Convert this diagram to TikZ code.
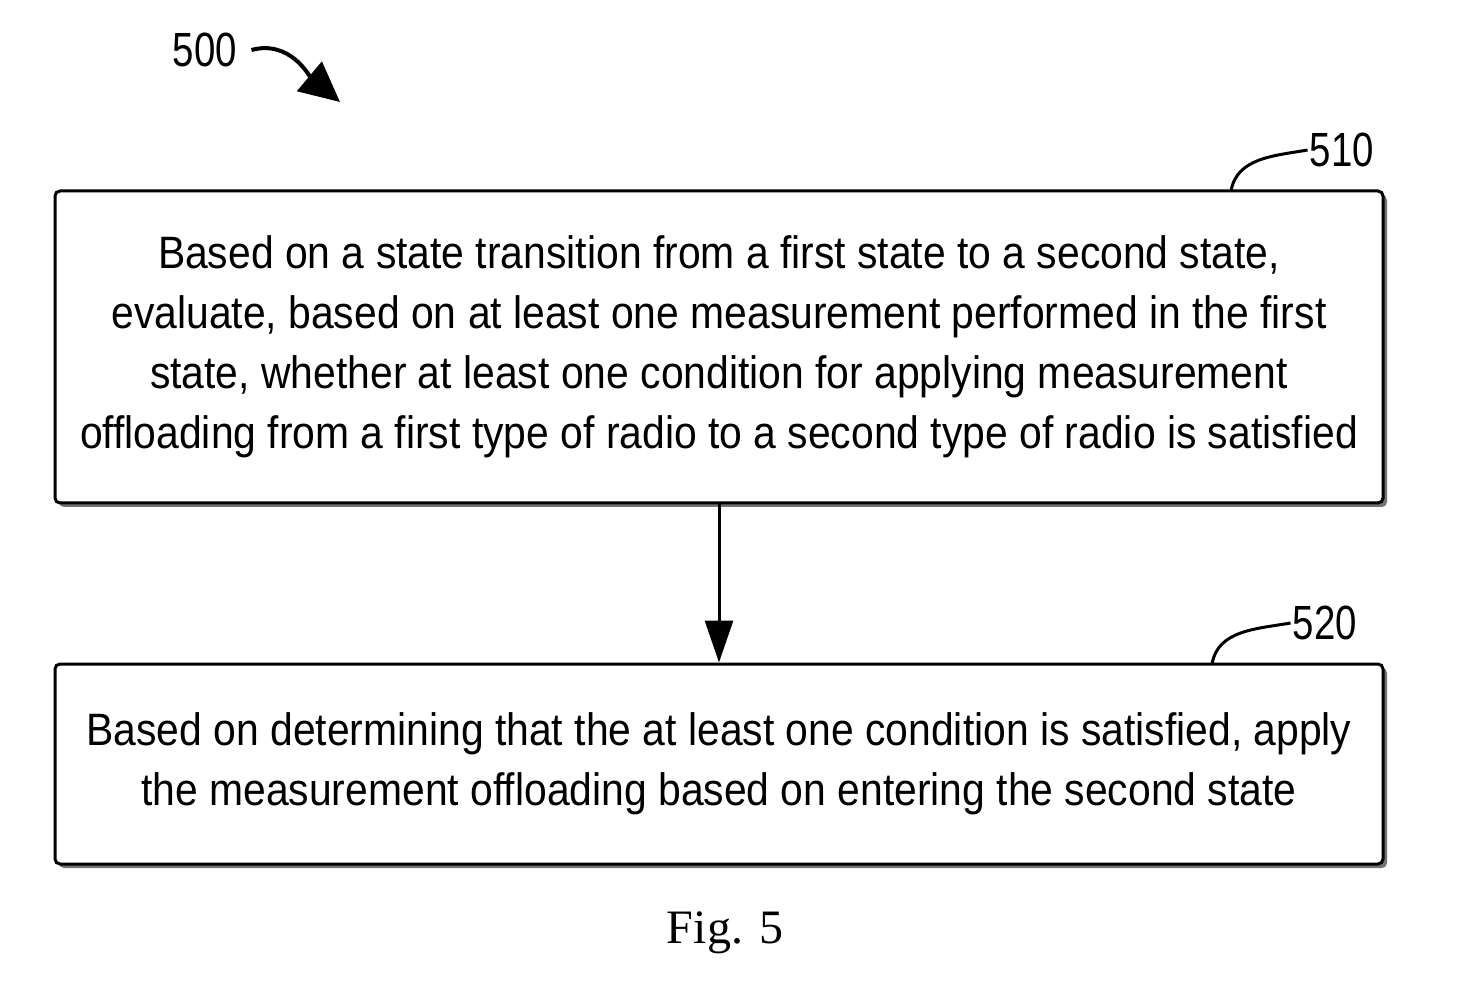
\documentclass[tikz,border=0pt]{standalone}
\usepackage{fontspec}
\setmainfont{Liberation Sans}[FakeStretch=0.9]
\newfontfamily\labelfont{Liberation Sans}[FakeStretch=0.8]
\newfontfamily\figfont{Liberation Serif}
\usepackage{tikz}
\usetikzlibrary{arrows.meta,calc,positioning,shadows}

\begin{document}
\begin{tikzpicture}[x=0.5pt,y=-0.5pt,
stepbox/.style={draw,line width=1.5pt,rounded corners=2.5pt,fill=white,
  minimum width=664pt,align=center,
  font=\fontsize{22.7pt}{30pt}\selectfont,
  drop shadow={shadow xshift=2pt,shadow yshift=-2pt,fill=black!55,opacity=1}},
reflabel/.style={font=\labelfont\fontsize{24pt}{24pt}\selectfont,inner sep=1pt},
leader/.style={line width=1.5pt},
flow/.style={line width=1.5pt,-{Triangle[length=21pt,width=14pt]}},
]
\useasboundingbox (0,0) rectangle (1457,1005);

\node[reflabel] (lbl500) at (205,50) {500};
\coordinate (tip500) at (340,102);
\draw[line width=2pt,-{Triangle[length=20pt,width=19pt]}]
  (lbl500.east) ++(6pt,0) to[out=15,in=140] (tip500);

\node[stepbox,minimum height=156pt] (box510) at (719,347)
  {Based on a state transition from a first state to a second state,\\
   evaluate, based on at least one measurement performed in the first\\
   state, whether at least one condition for applying measurement\\
   offloading from a first type of radio to a second type of radio is satisfied};

\node[stepbox,minimum height=100pt] (box520) at (719,764)
  {Based on determining that the at least one condition is satisfied, apply\\
   the measurement offloading based on entering the second state};

\node[reflabel] (lbl510) at (1342,150) {510};
\node[reflabel] (lbl520) at (1325,623) {520};
\coordinate (end510) at (1231,191);
\coordinate (end520) at (1212,664);
\draw[leader] (lbl510.west) to[out=190,in=80] (end510);
\draw[leader] (lbl520.west) to[out=190,in=80] (end520);

\draw[flow] (box510) -- (box520);

\node[font=\figfont\fontsize{24pt}{24pt}\selectfont] (fig) at (725,933) {Fig. 5};
\end{tikzpicture}
\end{document}
